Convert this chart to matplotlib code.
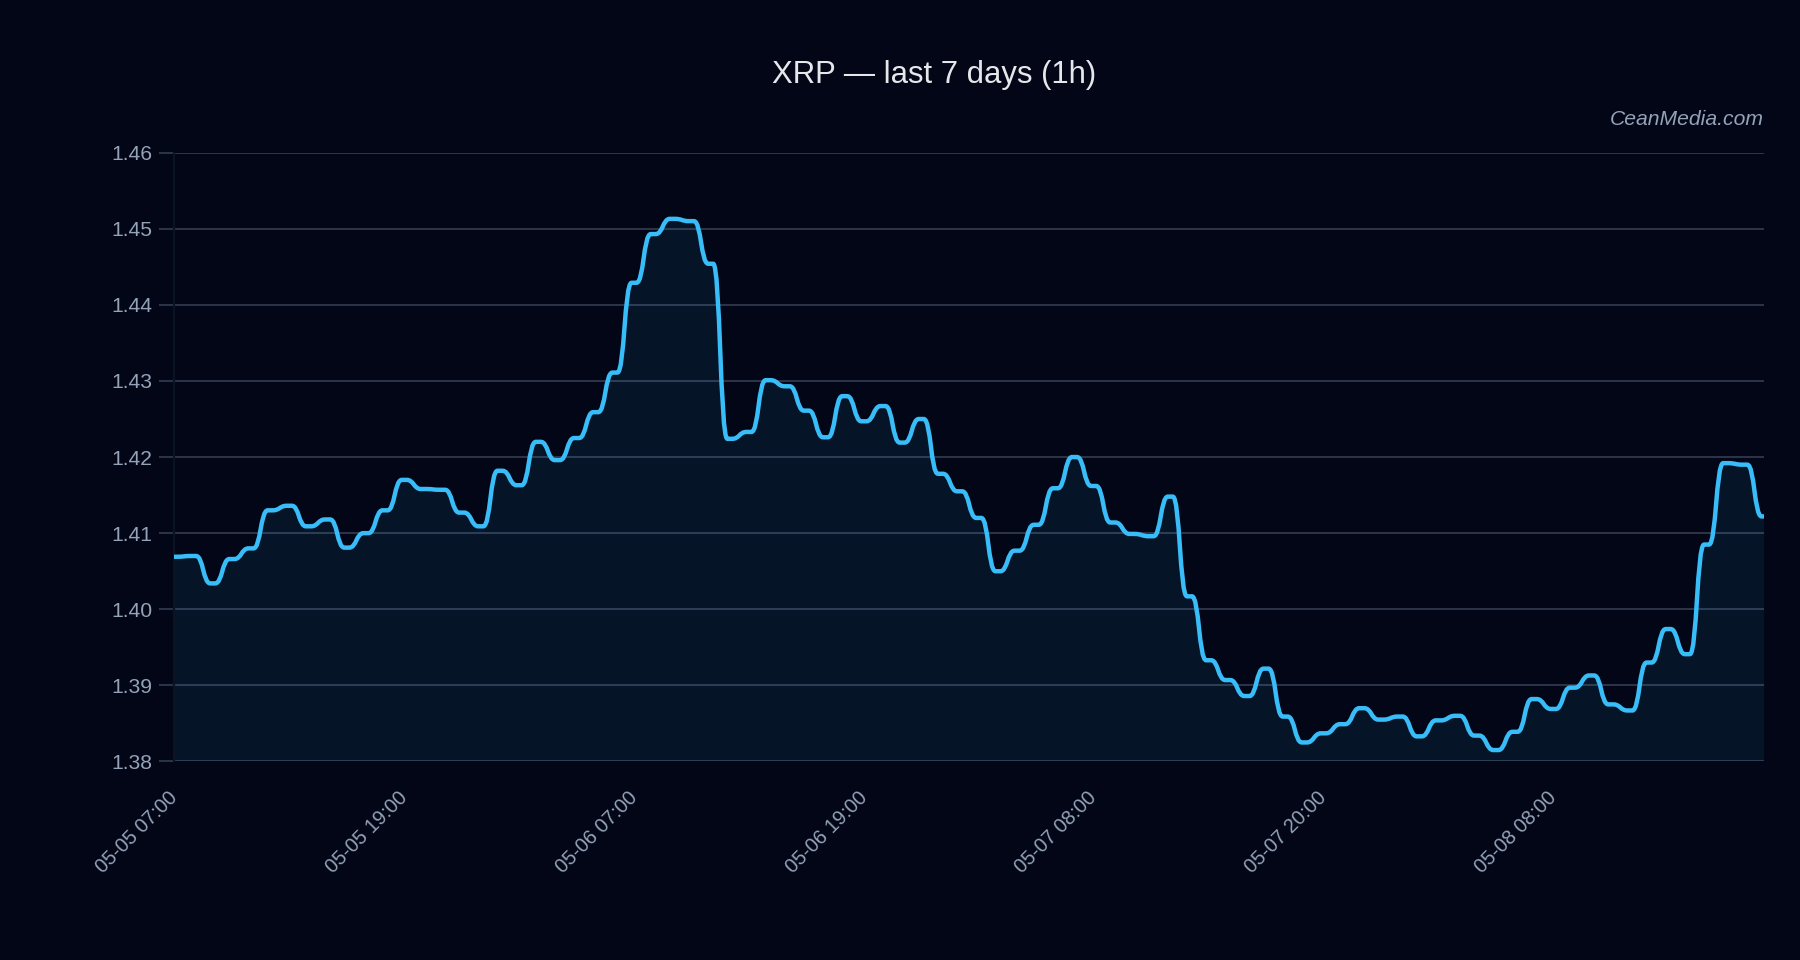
import matplotlib
matplotlib.use("Agg")
import matplotlib.pyplot as plt
import matplotlib.transforms as mtransforms
from matplotlib.path import Path
from matplotlib.patches import PathPatch
import numpy as np

# ---- data ----
prices = [
    1.4069, 1.4070, 1.4034, 1.4066, 1.4080, 1.4130, 1.4136, 1.4109, 1.4118, 1.4081,
    1.4100, 1.4130, 1.4170, 1.4158, 1.4157, 1.4127, 1.4109, 1.4182, 1.4163, 1.4220,
    1.4196, 1.4225, 1.4259, 1.4311, 1.4429, 1.4493, 1.4513, 1.4510, 1.4454, 1.4224,
    1.4233, 1.4301, 1.4293, 1.4261, 1.4226, 1.4280, 1.4247, 1.4267, 1.4219, 1.4250,
    1.4178, 1.4155, 1.4120, 1.4050, 1.4077, 1.4111, 1.4159, 1.4200, 1.4162, 1.4114,
    1.4099, 1.4096, 1.4148, 1.4017, 1.3933, 1.3907, 1.3886, 1.3922, 1.3859, 1.3825,
    1.3837, 1.3849, 1.3870, 1.3855, 1.3859, 1.3833, 1.3854, 1.3860, 1.3834, 1.3815,
    1.3839, 1.3882, 1.3869, 1.3897, 1.3913, 1.3875, 1.3867, 1.3930, 1.3974, 1.3941,
    1.4085, 1.4192, 1.4190, 1.4122,
]
tick_every = 12
tick_labels = ["05-05 07:00", "05-05 19:00", "05-06 07:00", "05-06 19:00",
               "05-07 08:00", "05-07 20:00", "05-08 08:00"]
y_ticks = [1.38, 1.39, 1.40, 1.41, 1.42, 1.43, 1.44, 1.45, 1.46]
title = "XRP — last 7 days (1h)"
watermark = "CeanMedia.com"

# ---- style ----
BG = "#020617"
LINE = "#38bdf8"
GRID = "#2a3446"
TICK = "#94a3b8"
plt.rcParams["font.family"] = ["Liberation Sans", "DejaVu Sans"]

fig = plt.figure(figsize=(9, 4.8), dpi=200, facecolor=BG)
ax = fig.add_axes([0.0969, 0.2068, 0.8831, 0.6342])
ax.set_facecolor(BG)

x = np.arange(len(prices), dtype=float)
y = np.asarray(prices, dtype=float)
ymin, ymax = y_ticks[0], y_ticks[-1]

# smooth "bump" curve with short flat shelves at each data point
SHELF = 0.13
verts = [(x[0], y[0])]
codes = [Path.MOVETO]
for i in range(len(x) - 1):
    dx = x[i + 1] - x[i]
    xa = x[i] + SHELF * dx
    xb = x[i + 1] - SHELF * dx
    xm = (xa + xb) / 2.0
    verts += [(xa, y[i]), (xm, y[i]), (xm, y[i + 1]), (xb, y[i + 1]), (x[i + 1], y[i + 1])]
    codes += [Path.LINETO, Path.CURVE4, Path.CURVE4, Path.CURVE4, Path.LINETO]

fill_verts = verts + [(x[-1], ymin), (x[0], ymin), (x[0], y[0])]
fill_codes = codes + [Path.LINETO, Path.LINETO, Path.CLOSEPOLY]
ax.add_patch(PathPatch(Path(fill_verts, fill_codes), facecolor=LINE, alpha=0.08,
                       edgecolor="none", zorder=2))
ax.add_patch(PathPatch(Path(verts, codes), facecolor="none", edgecolor=LINE,
                       lw=1.6, capstyle="round", joinstyle="round", zorder=3))

ax.set_xlim(x[0], x[-1])
ax.set_ylim(ymin, ymax)

ax.set_yticks(y_ticks)
ax.set_yticklabels([f"{v:.2f}" for v in y_ticks])
ax.grid(axis="y", color=GRID, lw=0.75, zorder=1)
ax.grid(axis="x", visible=False)
ax.tick_params(axis="y", colors=GRID, labelcolor=TICK, labelsize=7.6,
               length=5.5, width=0.75, pad=2.5)

xt = np.arange(0, len(prices), tick_every)[:len(tick_labels)]
ax.set_xticks(xt)
ax.set_xticklabels(tick_labels, rotation=45, ha="right")
ax.tick_params(axis="x", length=0, labelcolor=TICK, labelsize=7.2, pad=9.5)
shift = mtransforms.ScaledTranslation(2.5 / 72, 0, fig.dpi_scale_trans)
for lab in ax.get_xticklabels():
    lab.set_transform(lab.get_transform() + shift)

for s in ["top", "right", "bottom"]:
    ax.spines[s].set_visible(False)
ax.spines["left"].set_color("#0b1426")
ax.spines["left"].set_linewidth(0.8)

fig.text(0.519, 0.922, title, ha="center", va="center", color="#e5e7eb", fontsize=11.2)
fig.text(0.98, 0.8755, watermark, ha="right", va="center", color=TICK,
         fontsize=7.6, style="italic")

fig.savefig("out.png", dpi=200, facecolor=BG)
